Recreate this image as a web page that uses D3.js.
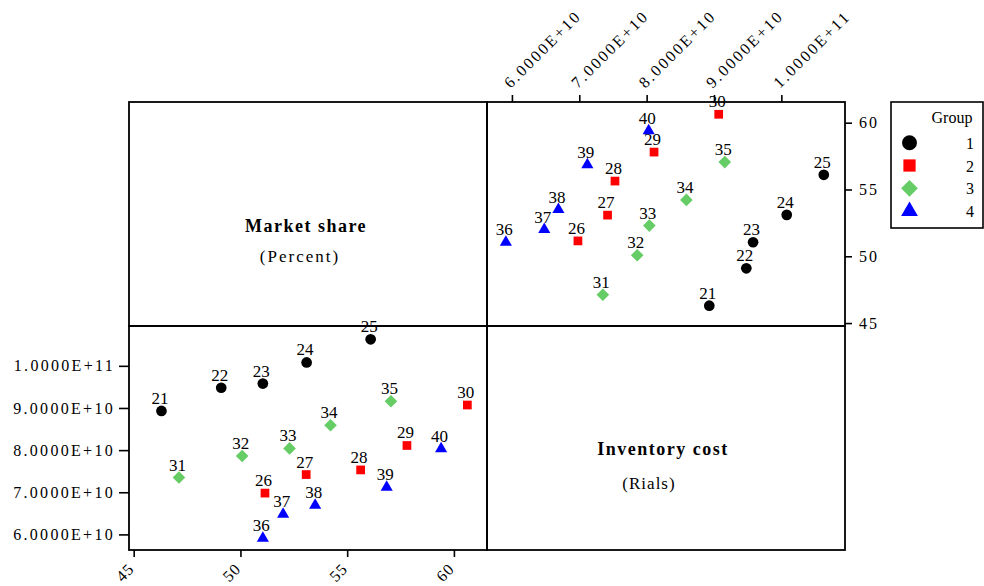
<!DOCTYPE html>
<html>
<head>
<meta charset="utf-8">
<script src="https://cdn.jsdelivr.net/npm/d3@7"></script>
<style>
  html, body { margin: 0; padding: 0; background: #fff; }
  svg { display: block; }
  text { font-family: "Liberation Serif", "Times New Roman", serif; fill: #000; }
</style>
</head>
<body>
<svg id="chart" width="984" height="586"></svg>
<script>
// Observation labels, group membership and the two measured variables
const pointIds = [21, 22, 23, 24, 25, 26, 27, 28, 29, 30, 31, 32, 33, 34, 35, 36, 37, 38, 39, 40];
const groups   = [1, 1, 1, 1, 1, 2, 2, 2, 2, 2, 3, 3, 3, 3, 3, 4, 4, 4, 4, 4];
const marketShare = [46.3, 49.1, 51.05, 53.1, 56.1,
                     51.15, 53.08, 55.63, 57.8, 60.63,
                     47.12, 50.08, 52.3, 54.22, 57.05,
                     51.05, 52.0, 53.5, 56.85, 59.4];
const inventoryCost = [8.93e10, 9.48e10, 9.58e10, 1.008e11, 1.063e11,
                       6.98e10, 7.42e10, 7.53e10, 8.11e10, 9.07e10,
                       7.35e10, 7.86e10, 8.04e10, 8.59e10, 9.16e10,
                       5.91e10, 6.48e10, 6.69e10, 7.12e10, 8.03e10];

const groupNames = [1, 2, 3, 4];
const groupColors = ["#000000", "#ff0000", "#66cc66", "#0000ff"];
const marketTicks = [45, 50, 55, 60];
const costTicks = [6e10, 7e10, 8e10, 9e10, 1e11];
const marketDomain = [44.78, 61.55];
const costDomain = [5.63e10, 10.945e10];

const rows = pointIds.map((id, i) => ({
  id, group: groups[i], share: marketShare[i], cost: inventoryCost[i]
}));

const svg = d3.select("#chart");

// 2 x 2 matrix geometry
const gridLeft = 129, gridTop = 102, cellW = 358, cellH = 224;
const colX = [gridLeft, gridLeft + cellW];
const rowY = [gridTop, gridTop + cellH];

// Bottom-left cell: share across, cost up. Top-right cell: cost across, share up.
const xShare = d3.scaleLinear().domain(marketDomain).range([colX[0], colX[0] + cellW]);
const yCost  = d3.scaleLinear().domain(costDomain).range([rowY[1] + cellH, rowY[1]]);
const xCost  = d3.scaleLinear().domain(costDomain).range([colX[1], colX[1] + cellW]);
const yShare = d3.scaleLinear().domain(marketDomain).range([rowY[0] + cellH, rowY[0]]);

const color = d3.scaleOrdinal().domain(groupNames).range(groupColors);

// Marker shapes per group: dot, square, diamond (rotated square), triangle
const shapeOf = g => [d3.symbolCircle, d3.symbolSquare, d3.symbolSquare, d3.symbolTriangle][g - 1];
const rotOf = g => (g === 3 ? 45 : 0);
const plotSizes = [90, 76, 80, 64];
const legendSizes = [175, 150, 140, 122];

function drawCell(xs, ys, xKey, yKey) {
  const gLab = svg.append("g");
  gLab.selectAll("text")
    .data(rows)
    .join("text")
    .attr("x", d => xs(d[xKey]) - 1.5)
    .attr("y", d => ys(d[yKey]) - 7)
    .attr("text-anchor", "middle")
    .style("font-size", "17px")
    .text(d => d.id);

  svg.append("g").selectAll("path")
    .data(rows)
    .join("path")
    .attr("transform", d => `translate(${xs(d[xKey])},${ys(d[yKey])}) rotate(${rotOf(d.group)})`)
    .attr("d", d => d3.symbol().type(shapeOf(d.group)).size(plotSizes[d.group - 1])())
    .attr("fill", d => color(d.group));
}

drawCell(xShare, yCost, "share", "cost");
drawCell(xCost, yShare, "cost", "share");

// Cell frames
const cells = [[0, 0], [1, 0], [0, 1], [1, 1]];
svg.append("g").selectAll("rect")
  .data(cells)
  .join("rect")
  .attr("x", d => colX[d[0]])
  .attr("y", d => rowY[d[1]])
  .attr("width", cellW)
  .attr("height", cellH)
  .attr("fill", "none")
  .attr("stroke", "#000")
  .attr("stroke-width", 1.8);

// Variable names on the diagonal
const titleStyle = sel => sel.style("font-size", "18px").style("font-weight", "bold").style("letter-spacing", "1.5px");
svg.append("text").attr("x", colX[0] + cellW / 2 - 2).attr("y", rowY[0] + cellH / 2 + 18)
  .attr("text-anchor", "middle").call(titleStyle).text("Market share");
svg.append("text").attr("x", colX[0] + cellW / 2 - 8).attr("y", rowY[0] + cellH / 2 + 48)
  .attr("text-anchor", "middle").style("font-size", "17px").style("letter-spacing", "2px").text("(Percent)");
svg.append("text").attr("x", colX[1] + cellW / 2 - 3).attr("y", rowY[1] + cellH / 2 + 17)
  .attr("text-anchor", "middle").call(titleStyle).text("Inventory cost");
svg.append("text").attr("x", colX[1] + cellW / 2 - 17).attr("y", rowY[1] + cellH / 2 + 51)
  .attr("text-anchor", "middle").style("font-size", "17px").style("letter-spacing", "1px").text("(Rials)");

// Axes
const sci = v => d3.format(".4e")(v).toUpperCase();

function styleAxis(g) {
  g.select(".domain").remove();
  g.selectAll(".tick line").attr("stroke", "#000").attr("stroke-width", 1.6);
  g.selectAll(".tick text")
    .attr("fill", "#000")
    .style("font-family", '"Liberation Serif", "Times New Roman", serif')
    .style("font-size", "16px")
    .style("letter-spacing", "2.3px");
}

// share along the bottom
svg.append("g")
  .attr("transform", `translate(0,${rowY[1] + cellH})`)
  .call(d3.axisBottom(xShare).tickValues(marketTicks).tickSize(7).tickSizeOuter(0).tickFormat(d3.format("d")))
  .call(styleAxis)
  .call(g => g.selectAll(".tick text")
    .attr("x", 0).attr("y", 0).attr("dy", 0)
    .attr("text-anchor", "end")
    .style("font-size", "16px")
    .style("letter-spacing", "1px")
    .attr("transform", "translate(1,20) rotate(-45)"));

// cost on the left
svg.append("g")
  .attr("transform", `translate(${colX[0]},0)`)
  .call(d3.axisLeft(yCost).tickValues(costTicks).tickSize(10).tickSizeOuter(0).tickFormat(sci))
  .call(styleAxis)
  .call(g => g.selectAll(".tick text").attr("x", -14));

// cost along the top
svg.append("g")
  .attr("transform", `translate(0,${rowY[0]})`)
  .call(d3.axisTop(xCost).tickValues(costTicks).tickSize(7).tickSizeOuter(0).tickFormat(sci))
  .call(styleAxis)
  .call(g => g.selectAll(".tick text")
    .attr("x", 0).attr("y", 0).attr("dy", 0)
    .attr("text-anchor", "start")
    .attr("transform", "translate(-2,-13) rotate(-45)"));

// share on the right
svg.append("g")
  .attr("transform", `translate(${colX[1] + cellW},0)`)
  .call(d3.axisRight(yShare).tickValues(marketTicks).tickSize(7).tickSizeOuter(0).tickFormat(d3.format("d")))
  .call(styleAxis)
  .call(g => g.selectAll(".tick text").attr("x", 14).style("letter-spacing", "2px"));

// Legend
const lg = svg.append("g");
lg.append("rect")
  .attr("x", 891).attr("y", 102).attr("width", 92).attr("height", 126)
  .attr("fill", "#fff").attr("stroke", "#000").attr("stroke-width", 1.6);
lg.append("text").attr("x", 952).attr("y", 123).attr("text-anchor", "middle")
  .style("font-size", "16px").text("Group");
const item = lg.selectAll("g.item")
  .data(groupNames)
  .join("g")
  .attr("class", "item")
  .attr("transform", (d, i) => `translate(0,${142.7 + i * 22.8})`);
item.append("path")
  .attr("transform", d => `translate(909.5,0) rotate(${rotOf(d)})`)
  .attr("d", d => d3.symbol().type(shapeOf(d)).size(legendSizes[d - 1])())
  .attr("fill", d => color(d));
item.append("text")
  .attr("x", 970).attr("y", 6).attr("text-anchor", "middle")
  .style("font-size", "16px").text(d => d);
</script>
</body>
</html>
